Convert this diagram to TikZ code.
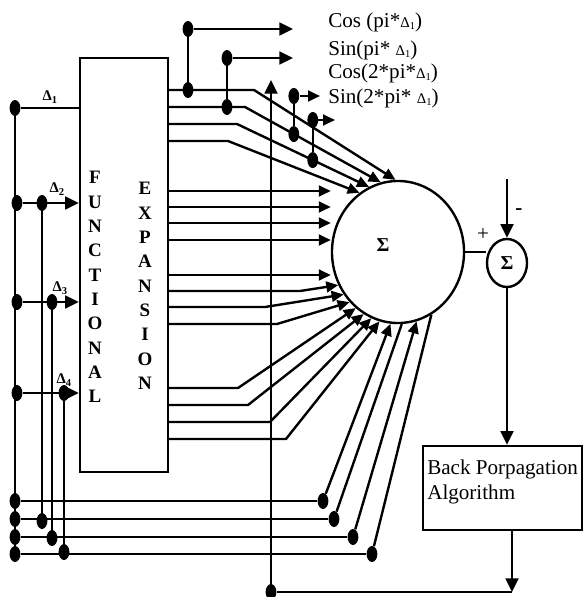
\documentclass[tikz,border=0pt]{standalone}
\usepackage{fontspec}
\setmainfont{Liberation Serif}
\usetikzlibrary{arrows.meta,positioning,calc,shapes.geometric}

\newcommand{\dsub}[1]{{\fontsize{10.5}{10.5}\selectfont Δ\raisebox{-0.35ex}{\fontsize{7.5}{7.5}\selectfont #1}}}

\begin{document}
\begin{tikzpicture}[
    x=0.025cm, y=-0.025cm,
    wire/.style={line width=1.7pt},
    arrow/.style={line width=1.7pt, -{Triangle[length=0.34cm, width=0.32cm]}},
    sarrow/.style={line width=1.7pt, -{Triangle[length=0.3cm, width=0.27cm]}},
    dot/.style={ellipse, fill=black, inner sep=0pt, minimum width=0.27cm, minimum height=0.4cm},
    block/.style={rectangle, draw, line width=1.7pt, inner sep=0pt},
    letters/.style={align=center, inner sep=0pt, font=\fontsize{13.5}{17.3}\selectfont\bfseries},
    outlabel/.style={anchor=west, inner sep=0pt, font=\fontsize{15}{17}\selectfont},
    dlabel/.style={inner sep=0pt, font=\bfseries}
]
    \useasboundingbox (0,0) rectangle (583,597);

    % functional expansion block
    \node [block, minimum width=2.2cm, minimum height=10.35cm] (fe) at (124,265) {};
    \node [letters] (fun) at (95,287) {F\\U\\N\\C\\T\\I\\O\\N\\A\\L};
    \node [letters] (expn) at (145,286) {E\\X\\P\\A\\N\\S\\I\\O\\N};

    % summing nodes and back propagation
    \node [ellipse, draw, line width=1.7pt, minimum width=3.3cm, minimum height=3.55cm] (sum) at (398,252) {};
    \node [inner sep=0pt, font=\fontsize{14}{14}\selectfont\bfseries] (sumlbl) at (383,245) {Σ};
    \node [ellipse, draw, line width=1.7pt, minimum width=1.0cm, minimum height=1.2cm, inner sep=0pt, font=\fontsize{14}{14}\selectfont\bfseries] (err) at (507,263) {Σ};
    \node [block, minimum width=3.975cm, minimum height=2.1cm] (bp) at (502.5,488) {};
    \node [anchor=north west, align=left, inner sep=0pt, font=\fontsize{15}{17.5}\selectfont] (bptxt) at (427,460) {Back Porpagation\\Algorithm};
    \node [font=\fontsize{15}{15}\selectfont] (plus) at (483,235) {+};
    \node [font=\fontsize{15}{15}\selectfont\bfseries] (minus) at (519,212) {-};

    % output labels
    \node [outlabel] (lcos1) at (328,22) {Cos (pi*\dsub{1})};
    \node [outlabel] (lsin1) at (328,50) {Sin(pi* \dsub{1})};
    \node [outlabel] (lcos2) at (328,73) {Cos(2*pi*\dsub{1})};
    \node [outlabel] (lsin2) at (328,98) {Sin(2*pi* \dsub{1})};

    % input bus
    \node [dot] (b1) at (15,108) {};
    \node [dot] (b2) at (17,203) {};
    \node [dot] (b3) at (17,302) {};
    \node [dot] (b4) at (17,393) {};
    \node [dot] (c2) at (42,203) {};
    \node [dot] (c3) at (52,302) {};
    \node [dot] (c4) at (64,393) {};
    \node [dot] (r1) at (15,501) {};
    \node [dot] (r2) at (15,519) {};
    \node [dot] (r3) at (15,537) {};
    \node [dot] (r4) at (15,554) {};
    \node [dot] (e2) at (42,521) {};
    \node [dot] (e3) at (52,538) {};
    \node [dot] (e4) at (64,552) {};
    \node [dot] (f1) at (323,501) {};
    \node [dot] (f2) at (334,519) {};
    \node [dot] (f3) at (353,537) {};
    \node [dot] (f4) at (372,554) {};

    \node [dlabel] (l1) at (50,97) {\dsub{1}};
    \node [dlabel] (l2) at (57,189) {\dsub{2}};
    \node [dlabel] (l3) at (60,288) {\dsub{3}};
    \node [dlabel] (l4) at (64,380) {\dsub{4}};

    \draw [wire] (b1.center) -- (r4.center);
    \draw [wire] (b1) -- (b1 -| fe.west);
    \draw [arrow] (b2) -- (b2 -| fe.west);
    \draw [arrow] (b3) -- (b3 -| fe.west);
    \draw [arrow] (b4) -- (b4 -| fe.west);
    \draw [wire] (c2) -- (e2);
    \draw [wire] (c3) -- (e3);
    \draw [wire] (c4) -- (e4);
    \draw [wire] (r1) -- (f1);
    \draw [wire] (r2) -- (f2);
    \draw [wire] (r3) -- (f3);
    \draw [wire] (r4) -- (f4);
    \draw [sarrow] (f1) -- (sum.264);
    \draw [wire] (f2) -- (sum.273);
    \draw [sarrow] (f3) -- (sum.285);
    \draw [wire] (f4) -- (sum.298);

    % expansion terms of delta 1
    \draw [sarrow] (fe.east |- 0,90) -- (254,90) -- (sum.92);
    \draw [sarrow] (fe.east |- 0,107) -- (245,107) -- coordinate [pos=0.36] (t3) (sum.104);
    \draw [sarrow] (fe.east |- 0,124) -- (237,124) -- coordinate [pos=0.574] (t4) (sum.114);
    \draw [sarrow] (fe.east |- 0,141) -- (228,141) -- (sum.123);

    % taps to the outputs
    \node [dot] (t1b) at (188,90) {};
    \node [dot] (t1a) at (188,29) {};
    \node [dot] (t2b) at (227,107) {};
    \node [dot] (t2a) at (227,58) {};
    \node [dot] (t3b) at (t3) {};
    \node [dot] (t3a) at (t3 |- 0,96) {};
    \node [dot] (t4b) at (t4) {};
    \node [dot] (t4a) at (t4 |- 0,120) {};
    \coordinate (o1) at (293,29);
    \coordinate (o2) at (293,58);
    \coordinate (o3) at (320,96);
    \coordinate (o4) at (335,120);
    \draw [wire] (t1b) -- (t1a);
    \draw [wire] (t2b) -- (t2a);
    \draw [wire] (t3b) -- (t3a);
    \draw [wire] (t4b) -- (t4a);
    \draw [arrow] (t1a) -- (o1);
    \draw [arrow] (t2a) -- (o2);
    \draw [sarrow] (t3a) -- (o3);
    \draw [sarrow] (t4a) -- (o4);

    % expansion terms of delta 2
    \draw [sarrow] (fe.east |- 0,191) -- (sum.west |- 0,191);
    \draw [sarrow] (fe.east |- 0,207) -- (sum.west |- 0,207);
    \draw [sarrow] (fe.east |- 0,223) -- (sum.west |- 0,223);
    \draw [sarrow] (fe.east |- 0,240) -- (sum.west |- 0,240);

    % expansion terms of delta 3
    \draw [sarrow] (fe.east |- 0,275) -- (sum.west |- 0,275);
    \draw [sarrow] (fe.east |- 0,291) -- (300,291) -- (sum.209);
    \draw [sarrow] (fe.east |- 0,307) -- (265,307) -- (sum.218);
    \draw [sarrow] (fe.east |- 0,324) -- (277,324) -- (sum.226);

    % expansion terms of delta 4
    \draw [sarrow] (fe.east |- 0,388) -- (238,388) -- (sum.233);
    \draw [sarrow] (fe.east |- 0,405) -- (248,405) -- (sum.241);
    \draw [sarrow] (fe.east |- 0,422) -- (270,422) -- (sum.248);
    \draw [sarrow] (fe.east |- 0,439) -- (286,439) -- (sum.255);

    % error and feedback
    \coordinate (target) at (507,179);
    \coordinate (fbc) at (512,592);
    \coordinate (fbtop) at (271,80);
    \node [dot] (fb) at (271,592) {};
    \draw [wire] (sum.east) -- (sum.east -| err.west);
    \draw [arrow] (target) -- (err.north);
    \draw [arrow] (err.south) -- (err.south |- bp.north);
    \draw [arrow] (bp.south -| fbc) -- (fbc);
    \draw [wire] (fbc) -- (fb);
    \draw [arrow] (fb) -- (fbtop);
\end{tikzpicture}
\end{document}
